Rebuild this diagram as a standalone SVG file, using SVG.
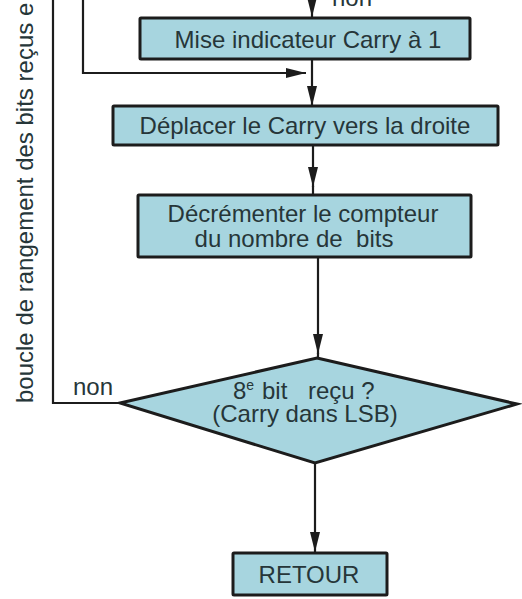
<svg xmlns="http://www.w3.org/2000/svg" width="522" height="599" viewBox="0 0 522 599">
<style>
  .box { fill: #a7d5df; stroke: #1c1c1c; stroke-width: 3; }
  .t { font-family: "Liberation Sans", Arial, sans-serif; font-size: 24px; fill: #263639; }
  .ln { fill: none; stroke: #1c1c1c; stroke-width: 2.2; }
</style>
<defs>
  <marker id="ah" viewBox="0 0 20 10" refX="20" refY="5" markerWidth="20" markerHeight="11" markerUnits="userSpaceOnUse" orient="auto">
    <path d="M0,0 L20,5 L0,10 Z" fill="#1c1c1c"/>
  </marker>
</defs>
<rect width="522" height="599" fill="#ffffff"/>
<g id="connectors">
  <line class="ln" x1="312" y1="-2" x2="312" y2="17" marker-end="url(#ah)"/>
  <polyline class="ln" points="83,0 83,73 306,73" marker-end="url(#ah)"/>
  <line class="ln" x1="312" y1="59" x2="312" y2="106" marker-end="url(#ah)"/>
  <line class="ln" x1="313" y1="145" x2="313" y2="187" marker-end="url(#ah)"/>
  <line class="ln" x1="313" y1="186" x2="313" y2="195"/>
  <line class="ln" x1="318" y1="257" x2="318" y2="354" marker-end="url(#ah)"/>
  <line class="ln" x1="318" y1="353" x2="318" y2="358"/>
  <polyline class="ln" points="120,403 53,403 53,0"/>
  <line class="ln" x1="315" y1="463" x2="315" y2="552" marker-end="url(#ah)"/>
  <text class="t" x="352" y="6" text-anchor="middle">non</text>
  <text class="t" x="93" y="395" text-anchor="middle" font-size="22">non</text>
  <text class="t" transform="translate(33,403) rotate(-90)">boucle de rangement des bits reçus e</text>
</g>
<g id="node-carry">
  <rect class="box" x="140" y="18" width="330" height="41" rx="1"/>
  <text class="t" x="308" y="48" text-anchor="middle">Mise indicateur Carry à 1</text>
</g>
<g id="node-deplacer">
  <rect class="box" x="113" y="106" width="385" height="39" rx="1"/>
  <text class="t" x="305" y="134" text-anchor="middle">Déplacer le Carry vers la droite</text>
</g>
<g id="node-decrementer">
  <rect class="box" x="138" y="195" width="333" height="62" rx="1"/>
  <text class="t" x="303" y="222" text-anchor="middle">Décrémenter le compteur</text>
  <text class="t" x="294" y="247" text-anchor="middle" xml:space="preserve">du nombre de  bits</text>
</g>
<g id="node-test">
  <polygon class="box" points="317,358 517,404 315,463 120,403"/>
  <text class="t" x="233" y="399">8<tspan dy="-9" font-size="14">e</tspan></text>
  <text class="t" x="262" y="399">bit</text>
  <text class="t" x="308" y="399">reçu ?</text>
  <text class="t" x="305" y="422" text-anchor="middle">(Carry dans LSB)</text>
</g>
<g id="node-retour">
  <rect class="box" x="233" y="553" width="154" height="42" rx="1"/>
  <text class="t" x="309" y="583" text-anchor="middle" font-size="22">RETOUR</text>
</g>
</svg>
